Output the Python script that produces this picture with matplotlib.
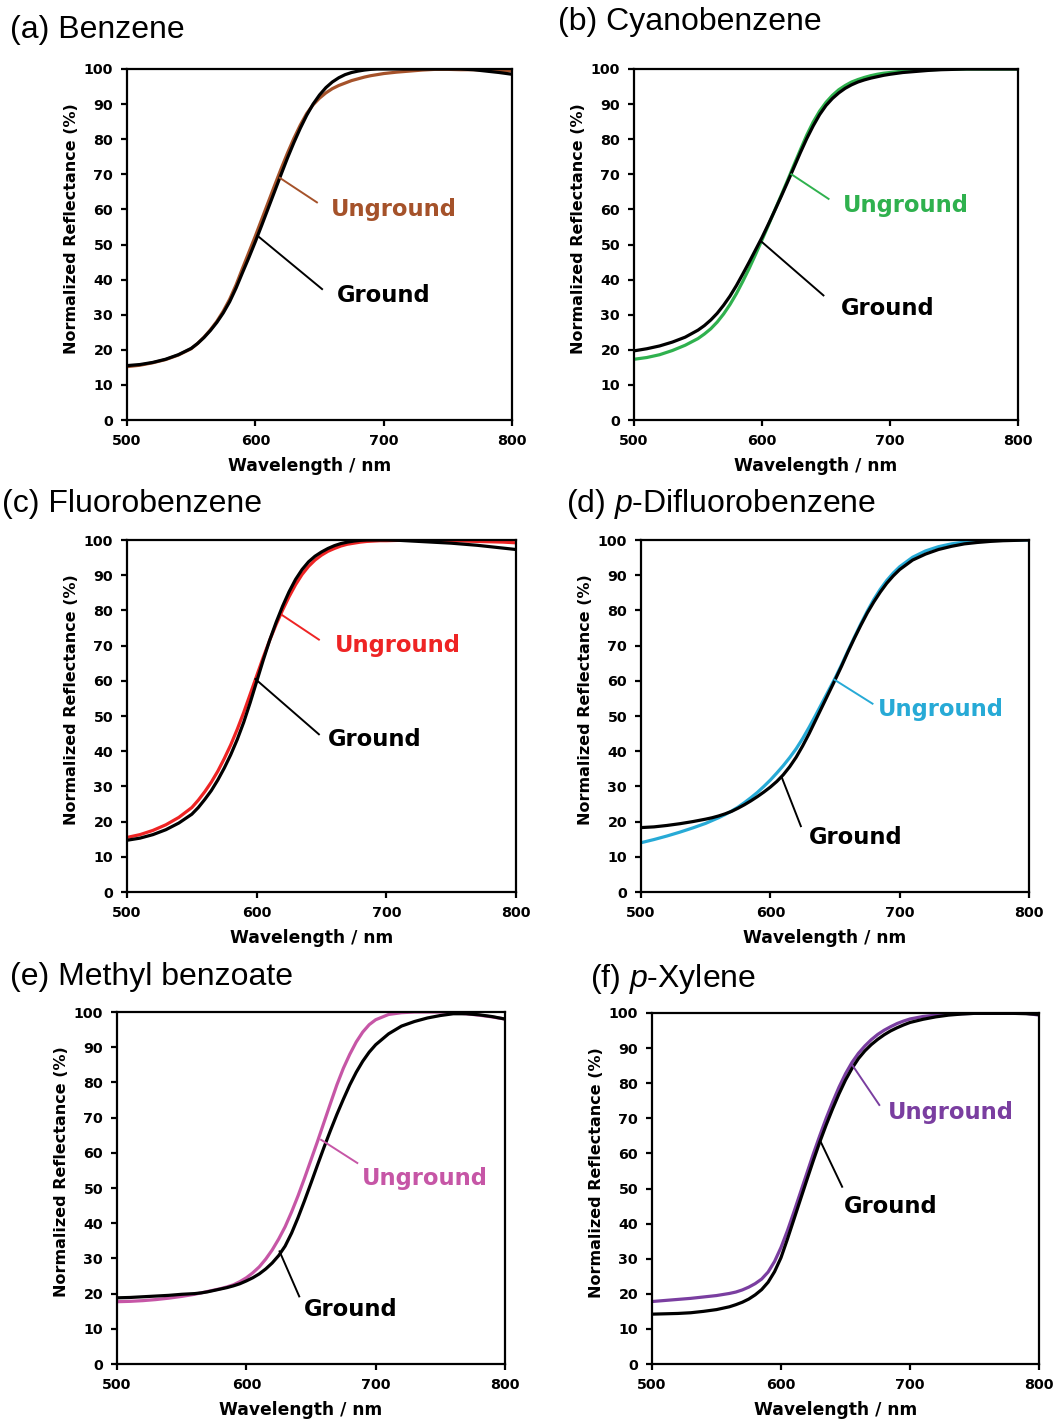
import matplotlib
matplotlib.use("Agg")
import matplotlib.pyplot as plt

plt.rcParams["mathtext.fontset"] = "custom"
plt.rcParams["mathtext.rm"] = "Liberation Sans"
plt.rcParams["mathtext.it"] = "Liberation Sans:italic"

# wavelength grid (nm), shared by all spectra; finer where the edge is steep
wavelength = [500, 510, 520, 530, 540, 550,
              555, 560, 565, 570, 575, 580, 585, 590, 595, 600,
              605, 610, 615, 620, 625, 630, 635, 640, 645, 650,
              655, 660, 665, 670, 675, 680, 685, 690, 695, 700,
              710, 720, 730, 740, 750, 760, 770, 780, 790, 800]

# (a) Benzene
benzene_ground = [15.5, 15.8, 16.4, 17.3, 18.6, 20.4,
                  21.8, 23.5, 25.5, 27.8, 30.5, 33.7, 37.6, 42.0, 46.3, 50.8,
                  55.5, 60.3, 65.1, 69.9, 74.6, 79.0, 83.1, 86.8, 90.0, 92.6,
                  94.7, 96.3, 97.5, 98.4, 99.0, 99.4, 99.7, 99.9, 100.0, 100.0,
                  100.0, 100.0, 100.0, 100.0, 100.0, 100.0, 99.8, 99.4, 99.0, 98.5]
benzene_unground = [15.2, 15.6, 16.3, 17.2, 18.5, 20.3,
                    21.8, 23.6, 25.7, 28.1, 31.0, 34.4, 38.5, 43.2, 47.8, 52.4,
                    57.2, 62.0, 66.8, 71.5, 76.0, 80.2, 84.0, 87.3, 89.8, 91.7,
                    93.2, 94.4, 95.3, 96.0, 96.7, 97.2, 97.7, 98.1, 98.4, 98.7,
                    99.1, 99.4, 99.7, 99.9, 99.9, 99.8, 99.8, 99.7, 99.6, 99.5]

# (b) Cyanobenzene
cyano_ground = [19.7, 20.3, 21.1, 22.2, 23.6, 25.6,
                26.9, 28.5, 30.4, 32.7, 35.3, 38.3, 41.6, 45.0, 48.5, 52.0,
                55.8, 59.7, 63.7, 67.8, 72.0, 76.2, 80.2, 83.8, 87.0, 89.6,
                91.6, 93.2, 94.5, 95.5, 96.3, 96.9, 97.4, 97.8, 98.2, 98.5,
                99.0, 99.3, 99.6, 99.8, 99.9, 100.0, 100.0, 100.0, 100.0, 100.0]
cyano_unground = [17.3, 17.8, 18.6, 19.8, 21.3, 23.2,
                  24.5, 26.0, 27.9, 30.2, 32.9, 36.0, 39.5, 43.2, 47.2, 51.3,
                  55.5, 59.8, 64.0, 68.3, 72.7, 77.0, 81.2, 84.9, 88.0, 90.5,
                  92.5, 94.1, 95.3, 96.3, 97.0, 97.6, 98.1, 98.5, 98.8, 99.0,
                  99.4, 99.6, 99.8, 99.9, 100.0, 100.0, 100.0, 100.0, 100.0, 100.0]

# (c) Fluorobenzene
fluoro_ground = [14.7, 15.3, 16.3, 17.7, 19.6, 22.1,
                 24.0, 26.3, 28.8, 31.8, 35.2, 39.0, 43.3, 48.2, 53.8, 59.8,
                 65.8, 71.5, 76.6, 81.2, 85.3, 88.8, 91.6, 93.8, 95.4, 96.6,
                 97.6, 98.4, 99.0, 99.4, 99.7, 99.9, 100.0, 100.0, 100.0, 100.0,
                 99.9, 99.7, 99.5, 99.3, 99.1, 98.8, 98.5, 98.1, 97.7, 97.3]
fluoro_unground = [15.5, 16.3, 17.5, 19.1, 21.2, 24.0,
                   26.1, 28.5, 31.2, 34.3, 37.9, 41.8, 46.2, 51.0, 56.2, 61.4,
                   66.6, 71.5, 76.0, 80.1, 83.9, 87.3, 90.2, 92.5, 94.3, 95.7,
                   96.8, 97.6, 98.3, 98.8, 99.1, 99.4, 99.6, 99.7, 99.8, 99.8,
                   99.9, 99.9, 99.9, 99.8, 99.8, 99.7, 99.6, 99.5, 99.4, 99.2]

# (d) p-Difluorobenzene
difluoro_ground = [18.3, 18.5, 18.9, 19.4, 20.0, 20.7,
                   21.1, 21.6, 22.2, 22.9, 23.8, 24.8, 25.9, 27.1, 28.4, 29.8,
                   31.4, 33.3, 35.6, 38.3, 41.5, 45.0, 48.8, 52.6, 56.4, 60.2,
                   64.1, 68.2, 72.1, 75.8, 79.3, 82.4, 85.2, 87.7, 89.8, 91.6,
                   94.3, 96.0, 97.3, 98.2, 98.9, 99.3, 99.6, 99.8, 99.9, 100.0]
difluoro_unground = [14.0, 14.9, 15.9, 17.0, 18.2, 19.5,
                     20.3, 21.1, 22.0, 23.0, 24.1, 25.4, 26.8, 28.3, 30.0, 31.8,
                     33.8, 35.9, 38.2, 40.7, 43.6, 46.8, 50.2, 53.7, 57.2, 60.7,
                     64.5, 68.5, 72.4, 76.2, 79.8, 83.1, 86.0, 88.5, 90.6, 92.4,
                     95.1, 96.9, 98.1, 98.9, 99.4, 99.7, 99.9, 100.0, 100.0, 100.0]

# (e) Methyl benzoate
benzoate_ground = [18.8, 18.9, 19.1, 19.3, 19.5, 19.8,
                   19.9, 20.0, 20.2, 20.5, 20.9, 21.3, 21.7, 22.2, 22.8, 23.6,
                   24.5, 25.6, 27.0, 28.7, 30.8, 33.5, 37.2, 41.6, 46.4, 51.4,
                   56.5, 61.5, 66.3, 70.9, 75.2, 79.3, 82.9, 86.0, 88.6, 90.7,
                   93.8, 96.0, 97.3, 98.3, 99.0, 99.5, 99.5, 99.2, 98.7, 98.0]
benzoate_unground = [17.7, 17.8, 18.0, 18.3, 18.7, 19.2,
                     19.5, 19.8, 20.2, 20.6, 21.0, 21.4, 21.9, 22.5, 23.4, 24.5,
                     25.9, 27.6, 29.8, 32.4, 35.5, 39.0, 43.2, 47.8, 52.8, 58.0,
                     63.2, 68.6, 74.0, 79.3, 84.0, 88.0, 91.5, 94.3, 96.4, 97.8,
                     99.3, 99.8, 100.0, 100.0, 100.0, 99.8, 99.5, 99.1, 98.6, 98.0]

# (f) p-Xylene
xylene_ground = [14.2, 14.3, 14.4, 14.6, 15.0, 15.5,
                 15.9, 16.3, 16.9, 17.6, 18.5, 19.7, 21.2, 23.3, 26.3, 30.3,
                 35.6, 41.2, 46.8, 52.4, 57.9, 63.2, 68.1, 72.7, 77.0, 80.9,
                 84.2, 87.0, 89.2, 91.0, 92.5, 93.8, 94.9, 95.8, 96.6, 97.3,
                 98.2, 98.9, 99.4, 99.7, 99.9, 99.9, 99.9, 99.9, 99.8, 99.6]
xylene_unground = [17.8, 18.1, 18.4, 18.7, 19.1, 19.5,
                   19.8, 20.1, 20.5, 21.1, 21.9, 22.9, 24.2, 26.2, 29.2, 33.2,
                   38.0, 43.3, 48.8, 54.3, 59.8, 65.0, 70.0, 74.6, 78.9, 82.7,
                   85.9, 88.5, 90.6, 92.4, 93.9, 95.1, 96.1, 97.0, 97.7, 98.3,
                   99.0, 99.4, 99.7, 99.8, 99.9, 99.9, 99.9, 99.9, 99.9, 99.4]

titles = ["(a) Benzene", "(b) Cyanobenzene", "(c) Fluorobenzene",
          "(d) $\\mathit{p}$-Difluorobenzene", "(e) Methyl benzoate", "(f) $\\mathit{p}$-Xylene"]
ground_series = [benzene_ground, cyano_ground, fluoro_ground,
                 difluoro_ground, benzoate_ground, xylene_ground]
unground_series = [benzene_unground, cyano_unground, fluoro_unground,
                   difluoro_unground, benzoate_unground, xylene_unground]
colors = ["#A5522A", "#2FB14E", "#EE2424", "#27AAD6", "#C656A6", "#7A3EA0"]

# axes boxes in pixels: left, right, top, bottom
boxes = [(127, 512, 69, 420), (634, 1018, 69, 420),
         (127, 516, 540, 892), (641, 1029, 540, 892),
         (117, 505, 1012, 1364), (652, 1039, 1013, 1364)]
# panel title anchors (px)
title_pos = [(10, 30), (558, 22), (2, 504), (566, 504), (10, 977), (590, 979)]

# annotation: (pointer start, pointer end, text left/center) in data units
unground_notes = [((619, 69), (648, 62), (659, 60)),
                  ((623, 70), (652, 63), (663, 61)),
                  ((619.5, 78.7), (648, 71.7), (660, 70)),
                  ((649.6, 60.3), (679, 53.5), (683, 51.8)),
                  ((657.8, 63.7), (685.8, 57.1), (689, 52.6)),
                  ((655.2, 85.2), (676.2, 73.8), (682.7, 71.7))]
ground_notes = [((602, 52.4), (652, 37.3), (663.5, 35.6)),
                ((599, 51), (648, 35.5), (662, 31.7)),
                ((599, 60.5), (648, 44.8), (654.7, 43.4)),
                ((608.8, 32.6), (623.6, 18.7), (629.6, 15.4)),
                ((625.7, 32), (640.9, 19.2), (644.8, 15.6)),
                ((630.4, 63.6), (647.4, 50.5), (648.7, 44.8))]

W, H = 1056, 1423
fig = plt.figure(figsize=(W / 100, H / 100), dpi=100)

for i in range(6):
    l, r, t, b = boxes[i]
    aw, ah = r - l, b - t
    ax = fig.add_axes([l / W, 1 - b / H, aw / W, ah / H])
    c = colors[i]
    ax.plot(wavelength, unground_series[i], color=c, lw=2.3)
    ax.plot(wavelength, ground_series[i], color="black", lw=2.3)
    ax.set_xlim(500, 800)
    ax.set_ylim(0, 100)
    ax.set_xticks([500, 600, 700, 800])
    ax.set_yticks(range(0, 101, 10))
    for s in ax.spines.values():
        s.set_linewidth(1.6)
    ax.tick_params(direction="out", length=4, width=1.6, labelsize=10.3, pad=6)
    for lab in ax.get_xticklabels() + ax.get_yticklabels():
        lab.set_fontweight("bold")
    ax.set_xlabel("Wavelength / nm", fontsize=12.3, fontweight="bold")
    ax.set_ylabel("Normalized Reflectance (%)", fontsize=11.5, fontweight="bold")
    ax.xaxis.set_label_coords(0.5 - 10 / aw, -37 / ah)
    ax.yaxis.set_label_coords(-48 / aw, 0.5 + 16 / ah)

    (x0, y0), (x1, y1), (tx, ty) = unground_notes[i]
    ax.plot([x0, x1], [y0, y1], color=c, lw=1.4)
    ax.text(tx, ty, "Unground", color=c, fontsize=16.3, fontweight="bold",
            ha="left", va="center")
    (x0, y0), (x1, y1), (tx, ty) = ground_notes[i]
    ax.plot([x0, x1], [y0, y1], color="black", lw=1.4)
    ax.text(tx, ty, "Ground", color="black", fontsize=16.3, fontweight="bold",
            ha="left", va="center")

    px, py = title_pos[i]
    fig.text(px / W, 1 - py / H, titles[i], family="Liberation Sans",
             fontsize=23, ha="left", va="center")

fig.savefig("out.png", dpi=100, facecolor="white")
